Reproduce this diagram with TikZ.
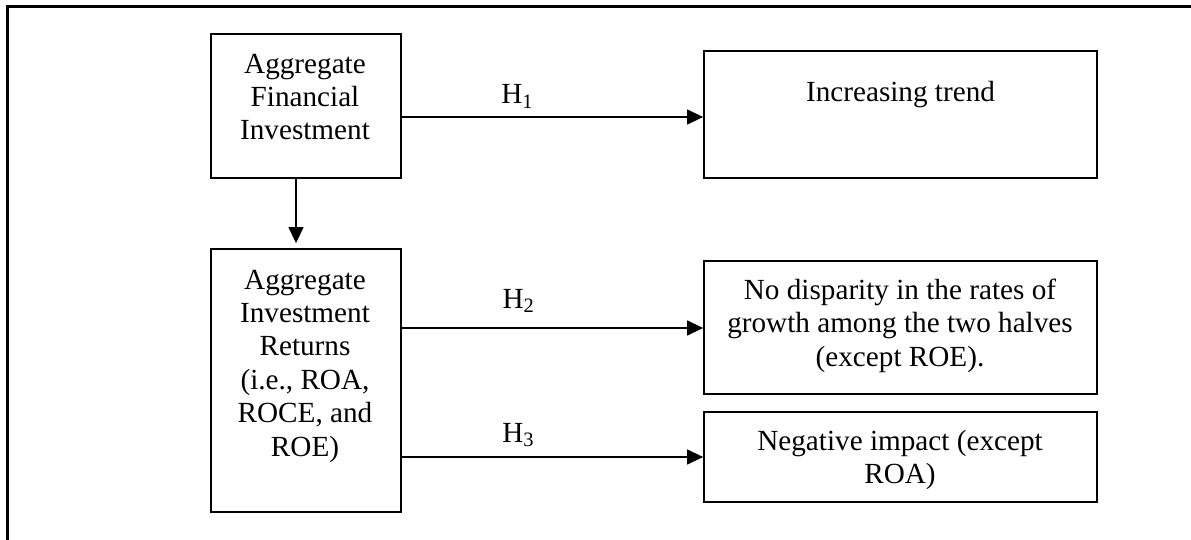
\documentclass[tikz,border=0pt]{standalone}
\usepackage{fontspec}
\setmainfont{Liberation Serif}
\usetikzlibrary{arrows.meta}
\begin{document}
\begin{tikzpicture}[x=1pt,y=-1pt,
  txt/.style={font=\fontsize{29.2}{33.4}\selectfont, align=center, inner sep=0pt, anchor=north},
  box/.style={draw, line width=1.8pt, inner sep=0pt},
  arr/.style={line width=1.4pt, -{Triangle[length=16pt,width=15pt]}},
  hlabel/.style={font=\fontsize{29.2}{33.4}\selectfont, inner sep=0pt, anchor=base}]
\useasboundingbox (0,0) rectangle (1191,540);
\clip (0,0) rectangle (1191,540);
% outer frame (cropped)
\draw[line width=3pt] (7.3,560) -- (7.3,6.5) -- (1210,6.5);
% boxes
\node[box, minimum width=190pt, minimum height=144pt] (A) at (306,106) {};
\node[box, minimum width=190pt, minimum height=263pt] (B) at (306,380.5) {};
\node[box, minimum width=393pt, minimum height=127pt] (C) at (900.5,114.2) {};
\node[box, minimum width=393pt, minimum height=133pt] (D) at (900.5,327.5) {};
\node[box, minimum width=393pt, minimum height=89.5pt] (E) at (900.5,457) {};
% texts
\node[txt] (At) at (305,49.6) {\strut Aggregate\\Financial\\Investment};
\node[txt] (Bt) at (305,265.6) {\strut Aggregate\\Investment\\Returns\\(i.e., ROA,\\ROCE, and\\ROE)};
\node[txt] (Ct) at (900.5,77.6) {\strut Increasing trend};
\node[txt] (Dt) at (900,276) {\strut No disparity in the rates of\\growth among the two halves\\(except ROE).};
\node[txt] (Et) at (900,426.6) {\strut Negative impact (except\\ROA)};
% connectors
\coordinate (h1s) at ([yshift=-11pt]A.east);
\coordinate (h2s) at ([yshift=52.5pt]B.east);
\coordinate (h3s) at ([yshift=-76.5pt]B.east);
\draw[arr] (h1s) -- node[hlabel, pos=0.383, yshift=13.4pt] (H1) {H\textsubscript{1}} (h1s -| C.west);
\draw[arr] (h2s) -- node[hlabel, pos=0.387, yshift=20pt] (H2) {H\textsubscript{2}} (h2s -| D.west);
\draw[arr] (h3s) -- node[hlabel, pos=0.386, yshift=15pt] (H3) {H\textsubscript{3}} (h3s -| E.west);
\coordinate (v1) at ([xshift=-10pt]A.south);
\coordinate (v2) at ([xshift=-10pt,yshift=5pt]B.north);
\draw[arr] (v1) -- (v2);
\end{tikzpicture}
\end{document}
